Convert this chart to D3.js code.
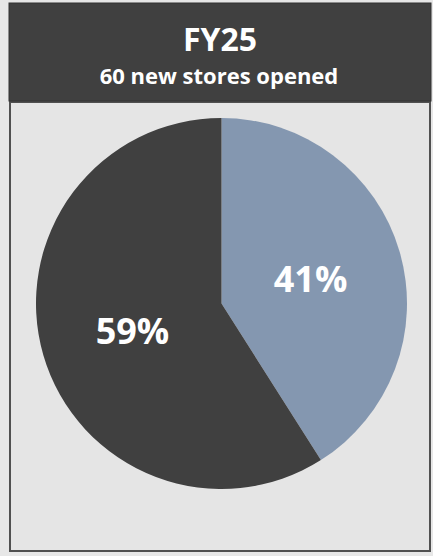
<!DOCTYPE html>
<html><head><meta charset="utf-8">
<script src="https://cdn.jsdelivr.net/npm/d3@7"></script>
<style>
html,body{margin:0;padding:0;background:#e7e7e7;}
svg{display:block;}
</style></head>
<body>
<svg id="c" width="433" height="556"></svg>
<script>
const title = "FY25";
const subtitle = "60 new stores opened";
const categories = ["Segment A", "Segment B"];
const values = [41, 59];
const colors = ["#8497b0", "#404040"];

const svg = d3.select("#c");
svg.append("rect").attr("x",0).attr("y",0).attr("width",433).attr("height",556).attr("fill","#e7e7e7");

// lower box
svg.append("rect").attr("x",10).attr("y",102).attr("width",420).attr("height",449)
  .attr("fill","#e5e5e5").attr("stroke","#505050").attr("stroke-width",2);
// header
svg.append("rect").attr("x",9).attr("y",3).attr("width",422).attr("height",98)
  .attr("fill","#404040").attr("stroke","#333").attr("stroke-width",1);

svg.append("text").attr("x",220).attr("y",51).attr("text-anchor","middle")
  .attr("font-family","Open Sans, Lato, sans-serif").attr("font-weight",700)
  .attr("font-size",32).attr("fill","#fff").text(title);
svg.append("text").attr("x",219).attr("y",84).attr("text-anchor","middle")
  .attr("font-family","Open Sans, Lato, sans-serif").attr("font-weight",700)
  .attr("font-size",22).attr("fill","#fff").text(subtitle);

const cx = 221.5, cy = 303.5, R = 185.5;
const pie = d3.pie().sort(null).value(d => d.v);
const data = pie(categories.map((c,i)=>({c, v: values[i], col: colors[i]})));
const arc = d3.arc().innerRadius(0).outerRadius(R);
const g = svg.append("g").attr("transform", `translate(${cx},${cy})`);
g.selectAll("path").data(data).join("path")
  .attr("d", arc).attr("fill", d => d.data.col);
g.selectAll("text").data(data).join("text")
  .attr("transform", d => `translate(${arc.centroid(d)})`)
  .attr("text-anchor","middle").attr("dy","0.4em")
  .attr("font-family","Open Sans, Lato, sans-serif").attr("font-weight",700)
  .attr("font-size",36).attr("fill","#fff")
  .text(d => d.data.v + "%");
</script>
</body></html>
